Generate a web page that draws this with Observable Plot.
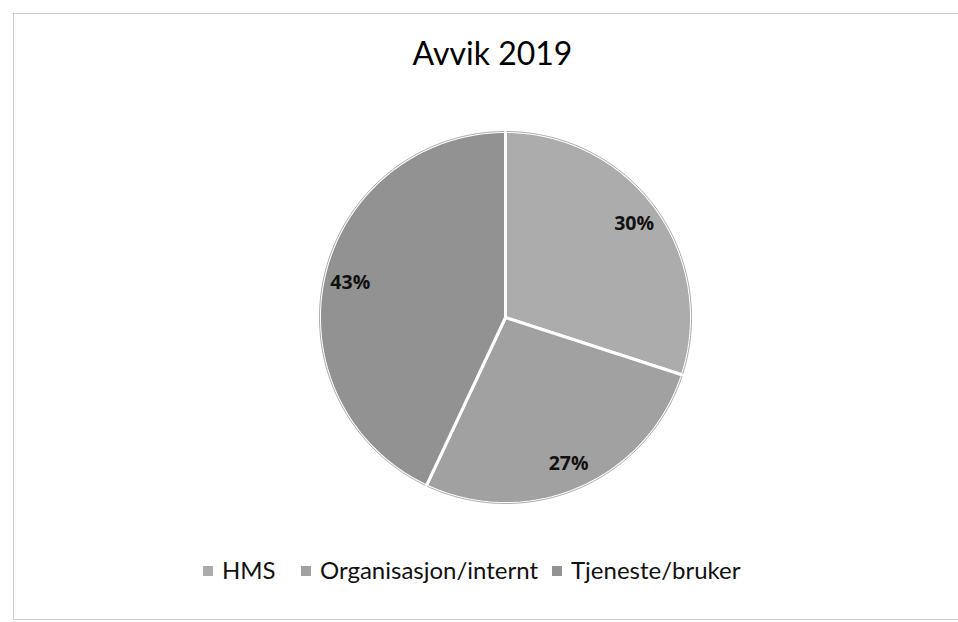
<!DOCTYPE html>
<html>
<head>
<meta charset="utf-8">
<script src="https://cdn.jsdelivr.net/npm/d3@7"></script>
<script src="https://cdn.jsdelivr.net/npm/@observablehq/plot@0.6"></script>
<style>
  html, body { margin: 0; padding: 0; background: #fff; }
  #page { position: relative; width: 958px; height: 622px; overflow: hidden; background: #fff; font-family: Lato, "Open Sans", sans-serif; }
  #frame { position: absolute; left: 13px; top: 13px; width: 980px; height: 605px; border: 1px solid #cfcfcf; border-right: none; }
  #title { position: absolute; left: 0; width: 985px; top: 33px; text-align: center; font-size: 32px; color: #000; }
  #chart { position: absolute; left: 0; top: 110px; }
  #legend { position: absolute; top: 555px; left: 0; width: 958px; font-size: 24px; color: #111; }
  .item { position: absolute; white-space: nowrap; }
  .sw { display: inline-block; width: 10px; height: 10px; margin-right: 9px; vertical-align: 3px; }
</style>
</head>
<body>
<div id="page">
  <div id="frame"></div>
  <div id="title"></div>
  <div id="chart"></div>
  <div id="legend"></div>
</div>
<script>
const title = "Avvik 2019";
const categories = ["HMS", "Organisasjon/internt", "Tjeneste/bruker"];
const values = [30, 27, 43];
const labels = ["30%", "27%", "43%"];
const colors = ["#acacac", "#a1a1a1", "#929292"];

document.getElementById("title").textContent = title;

const total = d3.sum(values);
let acc = 0;
const slices = categories.map((c, i) => {
  const a0 = acc / total * 2 * Math.PI;
  acc += values[i];
  const a1 = acc / total * 2 * Math.PI;
  return {category: c, value: values[i], label: labels[i], a0, a1, color: colors[i]};
});

function arcPoints(a0, a1, r) {
  const n = Math.max(2, Math.ceil((a1 - a0) / (Math.PI / 180)));
  const pts = [];
  for (let k = 0; k <= n; k++) {
    const a = a0 + (a1 - a0) * k / n;
    pts.push({x: r * Math.sin(a), y: r * Math.cos(a)});
  }
  return pts;
}

const W = 958, H = 414, R = 186, CX = 505;
const marks = [];
slices.forEach(s => {
  const pts = [{x: 0, y: 0}, ...arcPoints(s.a0, s.a1, 1), {x: 0, y: 0}];
  marks.push(Plot.line(pts, {x: "x", y: "y", fill: s.color, stroke: "white", strokeWidth: 3, curve: "linear-closed", strokeLinejoin: "miter"}));
});
slices.forEach(s => {
  marks.push(Plot.line(arcPoints(s.a0 + 0.008, s.a1 - 0.008, 1), {x: "x", y: "y", stroke: "#8a8a8a", strokeWidth: 1, strokeOpacity: 0.7}));
});
const lr = 0.855;
marks.push(Plot.text(slices, {
  x: d => lr * Math.sin((d.a0 + d.a1) / 2),
  y: d => lr * Math.cos((d.a0 + d.a1) / 2),
  text: "label",
  fill: "#111",
  fontSize: 19.5,
  fontWeight: "bold",
  fontFamily: "'Open Sans', Lato, sans-serif"
}));

const chart = Plot.plot({
  width: W,
  height: H,
  margin: 0,
  x: {domain: [-CX / R, (W - CX) / R], axis: null},
  y: {domain: [-(H / 2) / R, (H / 2) / R], axis: null},
  marks
});
document.getElementById("chart").appendChild(chart);

const legendX = [203, 301, 552];
const legend = document.getElementById("legend");
slices.forEach((s, i) => {
  const it = document.createElement("div");
  it.className = "item";
  it.style.left = legendX[i] + "px";
  const sw = document.createElement("span");
  sw.className = "sw";
  sw.style.background = s.color;
  it.appendChild(sw);
  it.appendChild(document.createTextNode(s.category));
  legend.appendChild(it);
});
</script>
</body>
</html>
